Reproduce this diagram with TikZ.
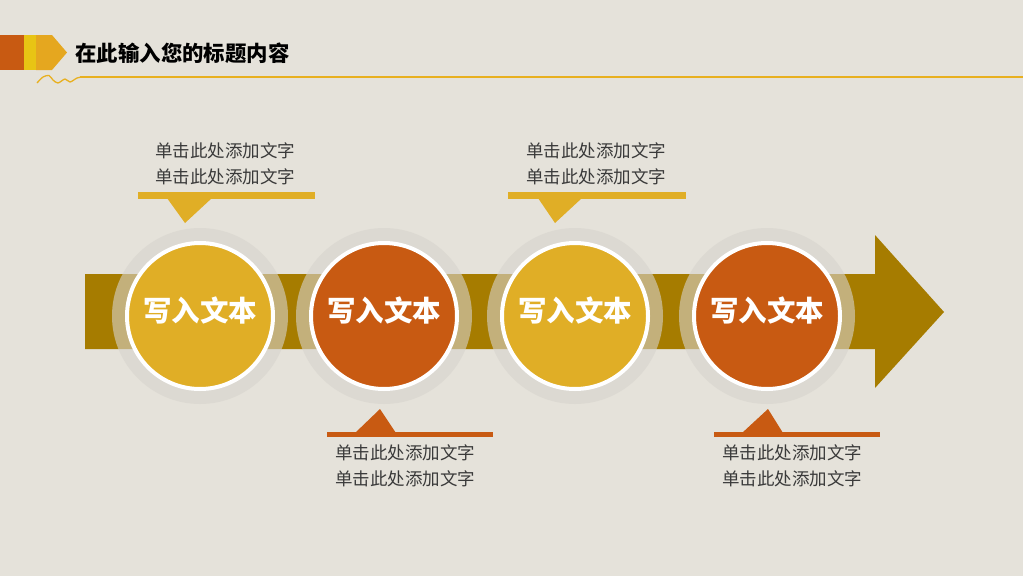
\documentclass[tikz,border=0pt]{standalone}
\usepackage{fontspec}
\newfontfamily\cjk{Noto Sans CJK SC}
\definecolor{bgcol}{RGB}{229,226,218}
\definecolor{barcol}{RGB}{166,124,0}
\definecolor{goldcol}{RGB}{224,174,38}
\definecolor{rustcol}{RGB}{200,90,18}
\definecolor{linecol}{RGB}{232,176,32}
\definecolor{lemoncol}{RGB}{232,196,20}
\definecolor{halocol}{RGB}{215,212,205}
\definecolor{txtcol}{RGB}{58,58,58}

\tikzstyle{step circle}=[circle, draw=white, line width=4pt, minimum size=146pt, inner sep=0pt, text=white, font=\cjk\bfseries\fontsize{28.5}{30}\selectfont]
\tikzstyle{halo}=[fill=halocol, fill opacity=0.6]
\tikzstyle{note}=[align=center, text=txtcol, font=\cjk\fontsize{17.5}{26.5}\selectfont]
\newcommand{\steptext}[1]{\raisebox{-5.8pt}[0pt][0pt]{#1}}

\begin{document}
\begin{tikzpicture}[x=1pt, y=-1pt]
\useasboundingbox (0,0) rectangle (1023,576);
\fill[bgcol] (0,0) rectangle (1023,576);
% title bar
\fill[rustcol] (0,35) rectangle (24,70);
\fill[lemoncol] (24,35) rectangle (36,70);
\fill[linecol!90!rustcol] (36,35) -- (52,35) -- (67,52.5) -- (52,70) -- (36,70) -- cycle;
\node[anchor=west, font=\cjk\bfseries\fontsize{21.4}{24}\selectfont] (title) at (72,53) {在此输入您的标题内容};
\draw[linecol, line width=1.3pt] (80,77) -- (1023,77);
\draw[linecol, line width=1.3pt] plot[smooth] coordinates {(37,83) (43,77) (49,75.5) (53,80) (58,83) (65,79) (70,82) (77,78) (82,77)};
% big arrow
\fill[barcol] (85,274) -- (875,274) -- (875,235) -- (944,312) -- (875,388) -- (875,349) -- (85,349) -- cycle;
% halos
\fill[halo] (200,316) circle (88);
\fill[halo] (384,316) circle (88);
\fill[halo] (575,316) circle (88);
\fill[halo] (767,316) circle (88);
% circles
\node[step circle, fill=goldcol] (c1) at (200,316) {\steptext{写入文本}};
\node[step circle, fill=rustcol] (c2) at (384,316) {\steptext{写入文本}};
\node[step circle, fill=goldcol] (c3) at (575,316) {\steptext{写入文本}};
\node[step circle, fill=rustcol] (c4) at (767,316) {\steptext{写入文本}};
% callouts
\fill[goldcol] (138,192) rectangle (315,199);
\fill[goldcol] (167,198) -- (212,198) -- (185,223) -- cycle;
\node[note] (t1) at (225,164) {单击此处添加文字\\单击此处添加文字};
\fill[rustcol] (327,432) rectangle (493,437);
\fill[rustcol] (355,433) -- (396,433) -- (380,409) -- cycle;
\node[note] (t2) at (405,466) {单击此处添加文字\\单击此处添加文字};
\fill[goldcol] (508,192) rectangle (686,199);
\fill[goldcol] (538,198) -- (582,198) -- (555,223) -- cycle;
\node[note] (t3) at (596,164) {单击此处添加文字\\单击此处添加文字};
\fill[rustcol] (714,432) rectangle (880,437);
\fill[rustcol] (742,433) -- (783,433) -- (768,409) -- cycle;
\node[note] (t4) at (792,466) {单击此处添加文字\\单击此处添加文字};
\end{tikzpicture}
\end{document}
